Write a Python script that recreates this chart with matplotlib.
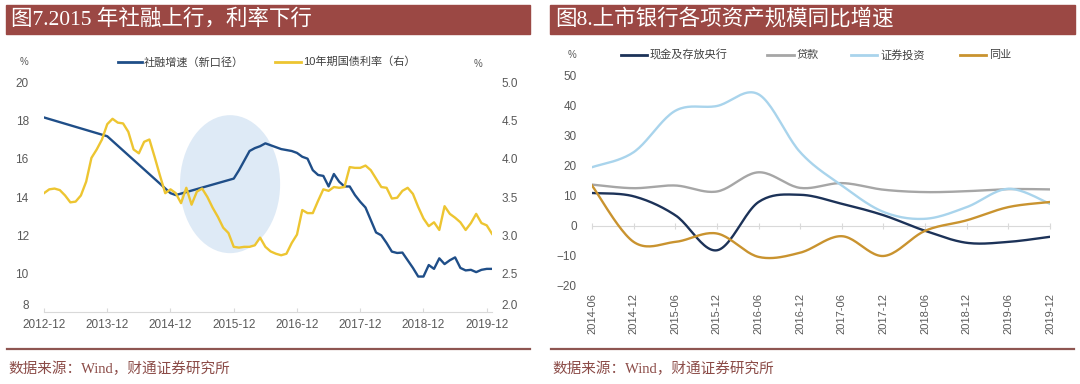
import numpy as np
import matplotlib
matplotlib.use("Agg")
import matplotlib.pyplot as plt
from matplotlib.patches import Rectangle, Ellipse
from matplotlib.lines import Line2D

plt.rcParams['font.family'] = ['Liberation Sans', 'Noto Sans CJK SC', 'DejaVu Sans']
plt.rcParams['axes.unicode_minus'] = True

# ---- left chart data (months counted from 2012-12) ----
tsf_months = [0, 12, 24, 25, 36, 37, 38, 39, 40, 41, 42, 43, 44, 45, 46, 47, 48,
              49, 50, 51, 52, 53, 54, 55, 56, 57, 58, 59, 60, 61, 62, 63, 64, 65,
              66, 67, 68, 69, 70, 71, 72, 73, 74, 75, 76, 77, 78, 79, 80, 81, 82,
              83, 84, 85]
tsf_growth = [18.15, 17.17, 14.2, 14.1, 14.96, 15.4, 15.9, 16.4, 16.55, 16.65, 16.8,
              16.7, 16.6, 16.5, 16.45, 16.4, 16.3, 16.1, 16.0, 15.4, 15.15, 15.1,
              14.55, 15.2, 14.8, 14.55, 14.55, 14.1, 13.75, 13.45, 12.8, 12.15, 12.0,
              11.6, 11.15, 11.08, 11.1, 10.7, 10.3, 9.85, 9.85, 10.45, 10.25, 10.8,
              10.5, 10.7, 10.85, 10.3, 10.17, 10.2, 10.08, 10.2, 10.25, 10.25]
bond_10y = [3.55, 3.60, 3.61, 3.59, 3.52, 3.43, 3.44, 3.52, 3.70, 4.01, 4.12, 4.25,
            4.45, 4.52, 4.47, 4.46, 4.35, 4.12, 4.07, 4.22, 4.25, 4.02, 3.78, 3.55,
            3.60, 3.55, 3.42, 3.62, 3.40, 3.57, 3.61, 3.50, 3.36, 3.24, 3.10, 3.03,
            2.85, 2.84, 2.85, 2.85, 2.87, 2.97, 2.85, 2.79, 2.76, 2.74, 2.76, 2.90,
            3.01, 3.33, 3.29, 3.29, 3.45, 3.60, 3.58, 3.63, 3.62, 3.63, 3.89, 3.88,
            3.88, 3.91, 3.85, 3.74, 3.63, 3.62, 3.48, 3.49, 3.58, 3.62, 3.54, 3.37,
            3.22, 3.12, 3.17, 3.07, 3.38, 3.28, 3.23, 3.17, 3.07, 3.16, 3.28, 3.16,
            3.13, 3.02]
left_xlabels = ['2012-12', '2013-12', '2014-12', '2015-12', '2016-12',
                '2017-12', '2018-12', '2019-12']

# ---- right chart data (half-yearly) ----
periods = ['2014-06', '2014-12', '2015-06', '2015-12', '2016-06', '2016-12',
           '2017-06', '2017-12', '2018-06', '2018-12', '2019-06', '2019-12']
cash = [11.0, 9.9, 3.6, -8.1, 8.0, 10.4, 7.4, 3.6, -1.6, -5.6, -5.3, -3.6]
loans = [13.8, 12.6, 13.5, 11.5, 17.9, 12.7, 14.3, 12.1, 11.3, 11.6, 12.3, 12.2]
securities = [19.6, 24.6, 38.4, 40.0, 43.9, 24.6, 13.5, 4.7, 2.4, 6.3, 12.4, 7.4]
interbank = [13.5, -5.3, -5.3, -2.5, -10.3, -8.9, -3.4, -10.0, -1.6, 1.9, 6.3, 8.0]

RED = '#9B4844'
GRAY_TXT = '#595959'
AXIS_GRAY = '#D9D9D9'
W, H = 1080, 384


def fx(px):
    return px / W


def fy(py):
    return 1 - py / H


def smooth(x, y, n=24):
    """Excel-like smoothed line (Bezier with 1/6 tangents)."""
    x = np.asarray(x, float)
    y = np.asarray(y, float)
    px = np.concatenate([[x[0]], x, [x[-1]]])
    py = np.concatenate([[y[0]], y, [y[-1]]])
    t = np.linspace(0, 1, n)[:, None]
    xs, ys = [], []
    for i in range(len(x) - 1):
        p0 = np.array([px[i + 1], py[i + 1]])
        p3 = np.array([px[i + 2], py[i + 2]])
        c1 = p0 + (np.array([px[i + 2], py[i + 2]]) - np.array([px[i], py[i]])) / 6
        c2 = p3 - (np.array([px[i + 3], py[i + 3]]) - np.array([px[i + 1], py[i + 1]])) / 6
        pts = ((1 - t) ** 3) * p0 + 3 * ((1 - t) ** 2) * t * c1 + 3 * (1 - t) * t ** 2 * c2 + t ** 3 * p3
        xs.append(pts[:, 0])
        ys.append(pts[:, 1])
    return np.concatenate(xs), np.concatenate(ys)


fig = plt.figure(figsize=(10.8, 3.84), dpi=100)
fig.patch.set_facecolor('white')

title_font = ['Liberation Serif', 'Noto Sans CJK SC']

# title bars
for x0, x1, txt in [(6, 530, '图7.2015 年社融上行，利率下行'),
                    (550, 1075, '图8.上市银行各项资产规模同比增速')]:
    fig.patches.append(Rectangle((fx(x0), fy(34)), fx(x1 - x0), 29 / H,
                                 transform=fig.transFigure, color=RED, zorder=0))
    fig.text(fx(x0 + 5), fy(19.5), txt, color='white', fontsize=15.5,
             va='center', ha='left', family=title_font)

# footers
for x0, x1 in [(7, 530), (551, 1074)]:
    fig.add_artist(Line2D([fx(x0), fx(x1)], [fy(349), fy(349)],
                          transform=fig.transFigure, color='#8E5551', lw=1.6))
    fig.text(fx(x0 + 1), fy(369), '数据来源：Wind，财通证券研究所', color='#8B4B47',
             fontsize=10.5, va='center', ha='left', family=title_font)

# ---------------- left chart ----------------
ax1 = fig.add_axes([fx(44), fy(312), 448 / W, 230 / H])
ax1.set_xlim(0, 85)
ax1.set_ylim(8, 20)
ax1.add_patch(Ellipse((35.3, 14.67), 19, 7.2, color='#DEEAF6', zorder=0, lw=0))
ax1.plot(tsf_months, tsf_growth, color='#1F4E88', lw=1.7, zorder=3)
for s in ['top', 'right', 'left']:
    ax1.spines[s].set_visible(False)
ax1.spines['bottom'].set_color(AXIS_GRAY)
ax1.set_xticks(np.arange(0, 85, 12))
ax1.set_xticklabels(left_xlabels)
ax1.set_yticks(np.arange(8, 21, 2))
ax1.tick_params(axis='x', direction='in', length=3, color=AXIS_GRAY,
                labelsize=8.5, labelcolor=GRAY_TXT, pad=5)
ax1.tick_params(axis='y', length=0, labelsize=8.5, labelcolor=GRAY_TXT, pad=11)

ax2 = ax1.twinx()
ax2.set_ylim(2, 5)
ax2.plot(range(len(bond_10y)), bond_10y, color='#EDC531', lw=1.7, zorder=2)
for s in ax2.spines.values():
    s.set_visible(False)
ax2.set_yticks(np.arange(2, 5.01, 0.5))
ax2.set_yticklabels([f'{v:.1f}' for v in np.arange(2, 5.01, 0.5)])
ax2.tick_params(axis='y', length=0, labelsize=8.5, labelcolor=GRAY_TXT, pad=7)
ax2.get_yticklabels()[0].set_va('bottom')
ax1.get_yticklabels()[0].set_va('bottom')

fig.text(fx(24), fy(62), '%', fontsize=7, color=GRAY_TXT, ha='center', va='center')
fig.text(fx(478), fy(64), '%', fontsize=7, color=GRAY_TXT, ha='center', va='center')

left_legend = [('社融增速（新口径）', '#1F4E88', 118, 142),
               ('10年期国债利率（右）', '#EDC531', 275, 301)]
for label, col, x0, x1 in left_legend:
    fig.add_artist(Line2D([fx(x0), fx(x1)], [fy(62), fy(62)],
                          transform=fig.transFigure, color=col, lw=2))
    fig.text(fx(x1 + 2), fy(62), label, fontsize=8, color='#404040',
             ha='left', va='center')

# ---------------- right chart ----------------
ax3 = fig.add_axes([fx(592), fy(286), 458 / W, 210 / H])
ax3.set_xlim(0, 11)
ax3.set_ylim(-20, 50)
xi = np.arange(len(periods))
series = [('现金及存放央行', cash, '#1C3258'),
          ('贷款', loans, '#A6A6A6'),
          ('证券投资', securities, '#A9D4EC'),
          ('同业', interbank, '#C9932F')]
for name, vals, col in series:
    sx, sy = smooth(xi, vals)
    ax3.plot(sx, sy, color=col, lw=1.7, zorder=3)
for s in ax3.spines.values():
    s.set_visible(False)
ax3.set_xticks(xi)
ax3.set_xticklabels(periods, rotation=90)
ax3.set_yticks(np.arange(-20, 51, 10))
ax3.tick_params(axis='x', length=0, labelsize=8, labelcolor=GRAY_TXT, pad=5)
ax3.tick_params(axis='y', length=0, labelsize=8.5, labelcolor=GRAY_TXT, pad=11)

zero_ax = ax3.secondary_xaxis(20 / 70)
zero_ax.set_xticks(xi)
zero_ax.tick_params(labelbottom=False, labeltop=False, direction='inout',
                    length=4, color=AXIS_GRAY)
for s in zero_ax.spines.values():
    s.set_color(AXIS_GRAY)

fig.text(fx(572), fy(55), '%', fontsize=7, color=GRAY_TXT, ha='center', va='center')
right_legend_pos = [(621, 647), (767, 794), (851, 877), (960, 986)]
for (name, vals, col), (x0, x1) in zip(series, right_legend_pos):
    fig.add_artist(Line2D([fx(x0), fx(x1)], [fy(55), fy(55)],
                          transform=fig.transFigure, color=col, lw=2))
    fig.text(fx(x1 + 3), fy(55), name, fontsize=8, color='#404040',
             ha='left', va='center')

fig.savefig('out.png', dpi=100, facecolor='white')
